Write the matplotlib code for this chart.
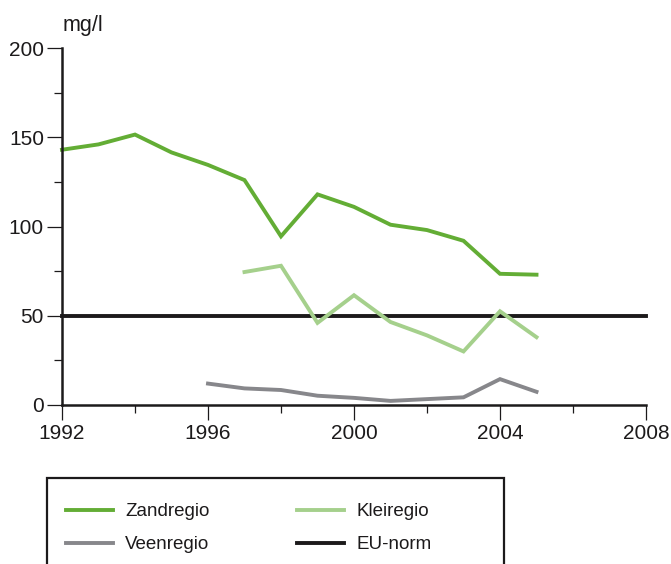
import matplotlib
matplotlib.use("Agg")
import matplotlib.pyplot as plt
from matplotlib.patches import Rectangle
from matplotlib.ticker import MultipleLocator

plt.rcParams['font.family'] = ['Liberation Sans', 'DejaVu Sans']

# data
zand_years = [1992, 1993, 1994, 1995, 1996, 1997, 1998, 1999, 2000, 2001, 2002, 2003, 2004, 2005]
zand_vals = [143, 146, 151.5, 141.5, 134.5, 126, 94.5, 118, 111, 101, 98, 92, 73.5, 73]

klei_years = [1997, 1998, 1999, 2000, 2001, 2002, 2003, 2004, 2005]
klei_vals = [74.5, 78, 46, 61.5, 46.5, 39, 30, 52.5, 38]

veen_years = [1996, 1997, 1998, 1999, 2000, 2001, 2002, 2003, 2004, 2005]
veen_vals = [12, 9.3, 8.4, 5.2, 4, 2.3, 3.3, 4.3, 14.5, 7.4]

eu_years = [1992, 2008]
eu_vals = [50, 50]

colors = ["#63ad35", "#a5d08c", "#87878b", "#1c1a1b"]

fig = plt.figure(figsize=(6.71, 5.64), dpi=100)
ax = fig.add_axes([62 / 671, 1 - 405 / 564, 584 / 671, 357 / 564])

lw = 2.8
h_zand, = ax.plot(zand_years, zand_vals, color=colors[0], lw=lw, solid_joinstyle='miter', clip_on=False)
h_klei, = ax.plot(klei_years, klei_vals, color=colors[1], lw=lw, solid_joinstyle='miter', clip_on=False)
h_veen, = ax.plot(veen_years, veen_vals, color=colors[2], lw=lw, solid_joinstyle='miter', clip_on=False)
h_eu, = ax.plot(eu_years, eu_vals, color=colors[3], lw=lw, clip_on=False, zorder=1)

ax.set_xlim(1992, 2008)
ax.set_ylim(0, 200)
ax.xaxis.set_major_locator(MultipleLocator(4))
ax.xaxis.set_minor_locator(MultipleLocator(2))
ax.yaxis.set_major_locator(MultipleLocator(50))
ax.yaxis.set_minor_locator(MultipleLocator(25))

for s in ['top', 'right']:
    ax.spines[s].set_visible(False)
for s in ['left', 'bottom']:
    ax.spines[s].set_linewidth(1.8)
    ax.spines[s].set_color('#1c1a1b')

ax.tick_params(which='major', length=10.5, width=0.9, color='#1c1a1b',
               labelsize=15, labelcolor='#1c1a1b')
ax.tick_params(which='minor', length=5.5, width=0.9, color='#1c1a1b')
ax.tick_params(axis='x', which='major', pad=3)
ax.tick_params(axis='y', which='major', pad=2.5)

fig.text(63 / 671, 1 - 25 / 564, "mg/l", fontsize=15.5, color='#1c1a1b', ha='left', va='center')

# legend box, open at the bottom edge of the figure
fig.patches.append(Rectangle((47 / 671, -0.05), 457 / 671, 0.05 + (564 - 478) / 564,
                             transform=fig.transFigure, fill=False, lw=1.6,
                             edgecolor='#1c1a1b'))
leg_size = 13.5
fpx = leg_size * 100 / 72
leg = fig.legend([h_zand, h_veen, h_klei, h_eu], ["Zandregio", "Veenregio", "Kleiregio", "EU-norm"],
                 ncol=2, loc='upper left', bbox_to_anchor=(66 / 671, 1 - 503 / 564),
                 frameon=False, fontsize=leg_size,
                 handlelength=47 / fpx, handletextpad=12 / fpx,
                 columnspacing=88 / fpx, labelspacing=0.85, borderaxespad=0, borderpad=0)
for t in leg.get_texts():
    t.set_color('#1c1a1b')

fig.savefig("out.png", dpi=100)
